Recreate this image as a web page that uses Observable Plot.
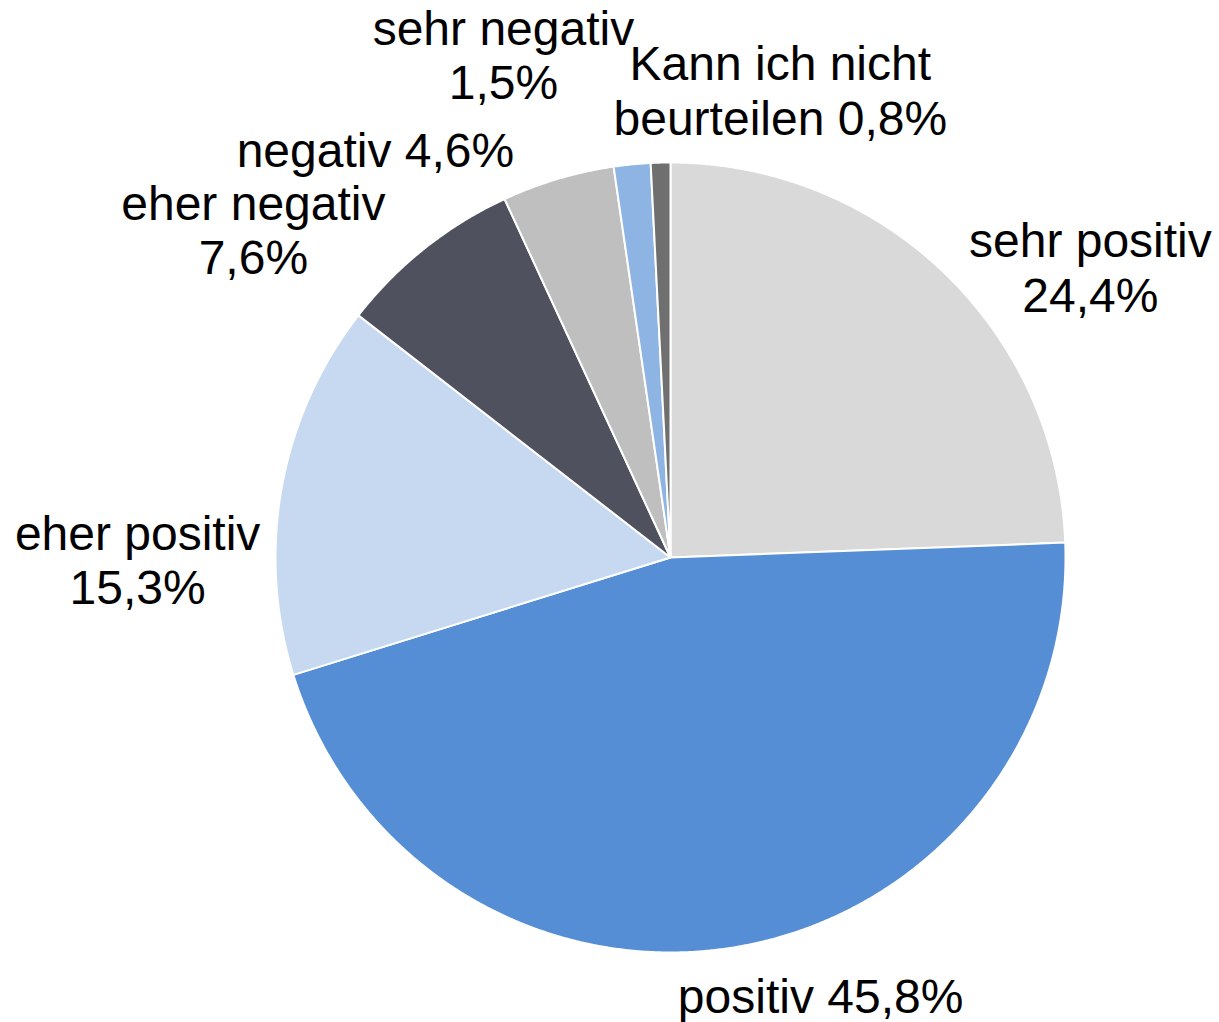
<!DOCTYPE html>
<html>
<head>
<meta charset="utf-8">
<script src="https://cdn.jsdelivr.net/npm/d3@7"></script>
<script src="https://cdn.jsdelivr.net/npm/@observablehq/plot@0.6"></script>
<style>
  html, body { margin: 0; padding: 0; background: #ffffff; }
  #chart svg { display: block; }
</style>
</head>
<body>
<div id="chart"></div>
<script>
// Data
const categories = ["sehr positiv", "positiv", "eher positiv", "eher negativ", "negativ", "sehr negativ", "Kann ich nicht beurteilen"];
const shares = [24.4, 45.8, 15.3, 7.6, 4.6, 1.5, 0.8];
const labelTexts = ["sehr positiv\n24,4%", "positiv 45,8%", "eher positiv\n15,3%", "eher negativ\n7,6%", "negativ 4,6%", "sehr negativ\n1,5%", "Kann ich nicht\nbeurteilen 0,8%"];
const colors = ["#d9d9d9", "#558ed5", "#c6d9f1", "#4f515e", "#bfbfbf", "#8eb4e3", "#6f6f6f"];

// Layout (label anchor points in radius units relative to pie centre)
const labelX = [1.063, 0.380, -1.349, -1.056, -0.747, -0.423, 0.278];
const labelY = [0.735, -1.108, -0.005, 0.831, 1.033, 1.274, 1.183];

const W = 1219, H = 1022;
const cx = 670, cy = 557, R = 395;

// Build slice polygons from pie angles (clockwise from 12 o'clock)
const pie = d3.pie().sort(null).value(d => d)(shares);
const pts = [];
pie.forEach((p, i) => {
  const cat = categories[i];
  pts.push({cat, x: 0, y: 0});
  const steps = Math.max(2, Math.ceil((p.endAngle - p.startAngle) / (Math.PI / 720)));
  for (let k = 0; k <= steps; k++) {
    const a = p.startAngle + (p.endAngle - p.startAngle) * k / steps;
    pts.push({cat, x: Math.sin(a), y: Math.cos(a)});
  }
});

const labels = categories.map((c, i) => ({cat: c, text: labelTexts[i], x: labelX[i], y: labelY[i]}));

const chart = Plot.plot({
  width: W,
  height: H,
  margin: 0,
  style: {background: "#ffffff", fontFamily: "'Liberation Sans', Arial, sans-serif"},
  x: {domain: [-cx / R, (W - cx) / R], range: [0, W], axis: null},
  y: {domain: [-(H - cy) / R, cy / R], range: [H, 0], axis: null},
  color: {domain: categories, range: colors},
  marks: [
    Plot.line(pts, {x: "x", y: "y", z: "cat", fill: "cat", stroke: "#ffffff", strokeWidth: 2, strokeLinejoin: "round", curve: "linear-closed"}),
    Plot.text(labels, {x: "x", y: "y", text: "text", fontSize: 48, lineHeight: 1.13, fill: "#000000", textAnchor: "middle"})
  ]
});

document.getElementById("chart").appendChild(chart);
</script>
</body>
</html>
